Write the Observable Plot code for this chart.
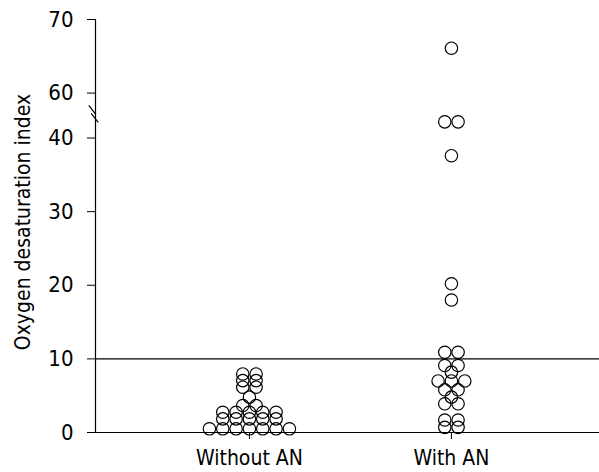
<!DOCTYPE html>
<html>
<head>
<meta charset="utf-8">
<script src="https://cdn.jsdelivr.net/npm/d3@7"></script>
<script src="https://cdn.jsdelivr.net/npm/@observablehq/plot@0.6"></script>
<style>
  body { margin: 0; background: #fff; }
  #chart svg { font-family: "DejaVu Sans Condensed", "Liberation Sans Narrow", "Liberation Sans", sans-serif; }
</style>
</head>
<body>
<div id="chart"></div>
<script>
// ---- data ----
const groups = ["Without AN", "With AN"];
const withoutAN = [0.5, 0.5, 0.5, 0.5, 0.5, 0.5, 0.5,
  1.85, 1.85, 1.85, 1.85, 1.85,
  2.75, 2.75, 2.75, 2.75, 2.75,
  3.66, 3.66, 4.8,
  6.15, 6.15, 7.05, 7.05, 7.95, 7.95];
const withAN = [0.7, 0.7, 1.7, 1.7, 3.9, 3.9, 4.8, 5.8, 5.8,
  7.0, 7.0, 7.0, 8.2, 9.1, 9.1, 10.9, 10.9,
  18.0, 20.2, 37.6, 42.2, 42.2, 66.1];
const yTicks = [0, 10, 20, 30, 40, 60, 70];
const yLabel = "Oxygen desaturation index";
const threshold = 10;

// ---- broken y axis: values above the break are shifted down ----
const breakLow = 44, breakHigh = 60, breakGap = 2.1;
const toAxis = v => v > breakLow ? v - breakHigh + breakLow + breakGap : v;
const fromAxis = t => t > breakLow ? t + breakHigh - breakLow - breakGap : t;

// ---- dot-plot layout: equal values sit side by side, centred on the group ----
const spacing = 0.066; // in category units
function layout(values, gi) {
  const counts = d3.rollup(values, v => v.length, v => v);
  const seen = new Map();
  return values.map(v => {
    const n = counts.get(v);
    const i = seen.get(v) || 0;
    seen.set(v, i + 1);
    return {group: groups[gi], value: v, y: toAxis(v), x: gi + (i - (n - 1) / 2) * spacing};
  });
}
const data = [...layout(withoutAN, 0), ...layout(withAN, 1)];

const xDomain = [-0.762, 1.733];
const yDomain = [0, toAxis(70)];

// axis break marks drawn on the y axis
function axisBreak(index, scales) {
  const g = d3.create("svg:g").attr("stroke", "#000").attr("stroke-width", 1.2);
  const x0 = scales.x(xDomain[0]);
  const yb = scales.y(breakLow - 0.8);
  for (const off of [-4, 4]) {
    g.append("line")
      .attr("x1", x0 - 5 + off * 0.3).attr("y1", yb + off - 4.5)
      .attr("x2", x0 + 2 + off * 0.3).attr("y2", yb + off + 4.5);
  }
  return g.node();
}

const chart = Plot.plot({
  width: 599,
  height: 472,
  marginLeft: 95,
  marginRight: 0,
  marginTop: 19,
  marginBottom: 40,
  style: {fontSize: "22px", color: "#000", background: "#fff"},
  x: {domain: xDomain},
  y: {domain: yDomain},
  marks: [
    Plot.ruleX([xDomain[0]], {y1: yDomain[0], y2: yDomain[1], stroke: "#000", strokeWidth: 1.2}),
    Plot.ruleY([0], {stroke: "#000", strokeWidth: 1.2}),
    Plot.ruleY([toAxis(threshold)], {stroke: "#000", strokeWidth: 1.2}),
    Plot.dot(data, {x: "x", y: "y", r: 6.2, stroke: "#000", strokeWidth: 1.2, fill: "none"}),
    axisBreak,
    Plot.axisY({ticks: yTicks.map(toAxis), tickFormat: t => String(Math.round(fromAxis(t))), tickSize: 8, tickPadding: 14, label: null, fontSize: 22}),
    Plot.axisX({ticks: [0, 1], tickFormat: i => groups[i], tickSize: 7, tickPadding: 11, label: null, fontSize: 21}),
    Plot.text([yLabel], {frameAnchor: "left", textAnchor: "middle", dx: -72, dy: -4, rotate: -90, fontSize: 21, fill: "#000"})
  ]
});
document.getElementById("chart").append(chart);
</script>
</body>
</html>
